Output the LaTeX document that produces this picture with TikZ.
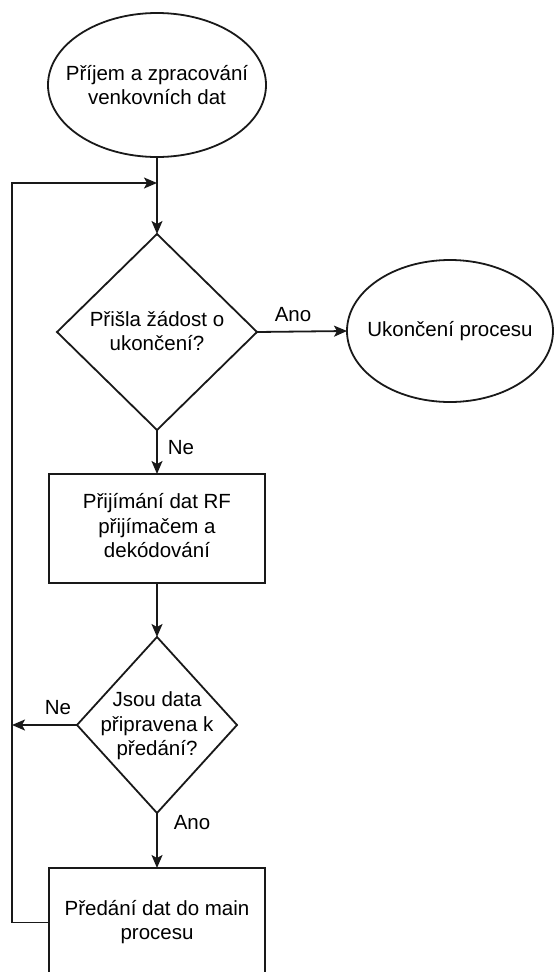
\documentclass[tikz,border=0pt]{standalone}
\usepackage{fontspec}
\setmainfont{Liberation Sans}
\usetikzlibrary{shapes.geometric,arrows.meta}
\begin{document}
\begin{tikzpicture}[x=1pt,y=-1pt,
  every node/.style={font=\fontsize{20.5}{24.5}\selectfont},
  shapeline/.style={draw=black!90, line width=1.8pt, inner sep=0pt, outer sep=0pt},
  terminal/.style={shapeline, ellipse},
  decision/.style={shapeline, diamond},
  processbox/.style={shapeline, rectangle},
  caption/.style={align=center, inner sep=0pt},
  flow/.style={draw=black!90, line width=1.8pt,
    -{Stealth[length=13pt,width=11pt,inset=3pt]}},
  edgelabel/.style={inner sep=0pt}
]
\useasboundingbox (0,0) rectangle (554,972);
\clip (0,0) rectangle (554,972);

% shapes
\node[terminal, minimum width=218pt, minimum height=144pt] (start) at (157,85) {};
\node[caption] (starttext) at (157,85) {Příjem a zpracování\\venkovních dat};

\node[decision, minimum width=200pt, minimum height=196pt] (d1) at (157,332) {};
\node[caption] (d1text) at (157,331) {Přišla žádost o\\ukončení?};

\node[terminal, minimum width=206pt, minimum height=142pt] (stop) at (450,331) {};
\node[caption] (stoptext) at (450,331) {Ukončení procesu};

\node[processbox, minimum width=216pt, minimum height=109pt] (r1) at (157,528.5) {};
\node[caption] (r1text) at (157,526) {Přijímání dat RF\\přijímačem a\\dekódování};

\node[decision, minimum width=160pt, minimum height=176pt] (d2) at (157,725) {};
\node[caption] (d2text) at (157,726) {Jsou data\\připravena k\\předání?};

\node[processbox, minimum width=216pt, minimum height=109pt] (r2) at (157,922.5) {};
\node[caption] (r2text) at (157,922) {Předání dat do main\\procesu};

% loop-back corners
\coordinate (merge) at (157,183);
\coordinate (loopTop) at (12,183);
\coordinate (loopBottom) at (12,922.5);
\coordinate (loopMid) at (12,725);

% connectors
\draw[flow] (start.south) -- (d1.north);
\draw[flow] (d1.east) -- (stop.west);
\draw[flow] (d1.south) -- (r1.north);
\draw[flow] (r1.south) -- (d2.north);
\draw[flow] (d2.west) -- (loopMid);
\draw[flow] (d2.south) -- (r2.north);
\draw[flow] (r2.west) -- (loopBottom) -- (loopTop) -- (merge);

% branch labels
\node[edgelabel] (lAno1) at (293,315) {Ano};
\node[edgelabel] (lNe1) at (181,448) {Ne};
\node[edgelabel] (lNe2) at (58,708) {Ne};
\node[edgelabel] (lAno2) at (192,823) {Ano};
\end{tikzpicture}
\end{document}
